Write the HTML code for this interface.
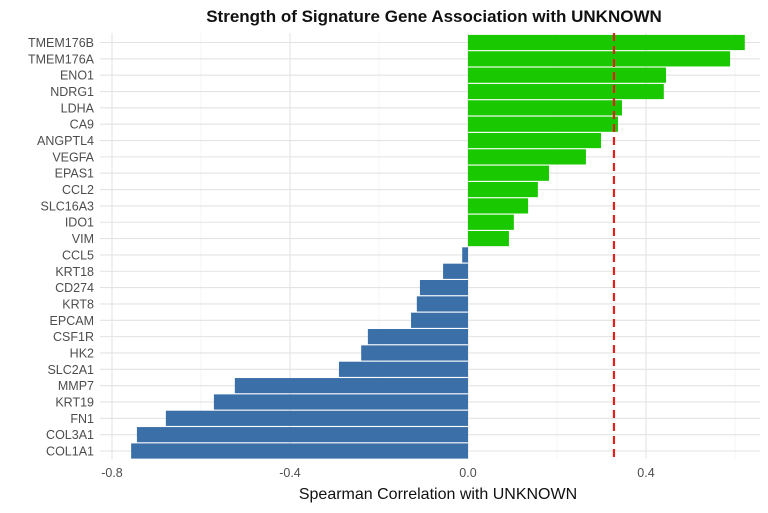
<!DOCTYPE html>
<html><head><meta charset="utf-8"><style>
body{margin:0;background:#fff;}
svg{display:block;font-family:"Liberation Sans",sans-serif;}
</style></head><body>
<svg id="c" width="768" height="513">
<text x="434" y="22" text-anchor="middle" font-size="17" font-weight="bold" fill="#111">Strength of Signature Gene Association with UNKNOWN</text>
<g id="grid"></g><g id="bars"></g><g id="labels"></g>
<text x="438" y="499" text-anchor="middle" font-size="16" fill="#111">Spearman Correlation with UNKNOWN</text>
</svg>
<script>
const genes=["TMEM176B","TMEM176A","ENO1","NDRG1","LDHA","CA9","ANGPTL4","VEGFA","EPAS1","CCL2","SLC16A3","IDO1","VIM","CCL5","KRT18","CD274","KRT8","EPCAM","CSF1R","HK2","SLC2A1","MMP7","KRT19","FN1","COL3A1","COL1A1"];
const values=[0.622,0.589,0.445,0.44,0.346,0.337,0.299,0.265,0.182,0.157,0.135,0.103,0.092,-0.013,-0.056,-0.108,-0.115,-0.128,-0.225,-0.240,-0.29,-0.524,-0.571,-0.679,-0.744,-0.757];
const xTicks=[-0.8,-0.4,0.0,0.4];
const xMinor=[-0.6,-0.2,0.2,0.6];
const threshold=0.328;
const NS="http://www.w3.org/2000/svg";
const xs=v=>468+v*445;
const Y0=42.5, STEP=(451-42.5)/(genes.length-1);
const ys=i=>Y0+i*STEP;
const PL=100,PR=760,PT=33,PB=459;
function mk(t,a,p){const e=document.createElementNS(NS,t);for(const k in a)e.setAttribute(k,a[k]);p.appendChild(e);return e;}
const gG=document.getElementById('grid'),gB=document.getElementById('bars'),gL=document.getElementById('labels');
xMinor.forEach(v=>{const e=mk('line',{x1:xs(v),x2:xs(v),y1:PT,y2:PB,stroke:'#f0f0f0','stroke-width':0.6},gG);

});
xTicks.forEach(v=>{const e=mk('line',{x1:xs(v),x2:xs(v),y1:PT,y2:PB,stroke:'#e3e3e3','stroke-width':1.1},gG);


const t=mk('text',{x:xs(v),y:477,'text-anchor':'middle','font-size':12.5,fill:'#4d4d4d'},gL);t.textContent=v.toFixed(1);

});
genes.forEach((n,i)=>{
const gl=mk('line',{x1:PL,x2:PR,y1:ys(i),y2:ys(i),stroke:'#e3e3e3','stroke-width':1.1},gG);


const v=values[i];
const r=mk('rect',{x:Math.min(xs(0),xs(v)),y:ys(i)-7.6,width:Math.abs(xs(v)-xs(0)),height:15.2,fill:v>=0?'#1ac800':'#3a6fa8'},gB);


const t=mk('text',{x:94,y:ys(i)+4.5,'text-anchor':'end','font-size':12.5,fill:'#4d4d4d'},gL);t.textContent=n;


});
const d=mk('line',{x1:xs(threshold),x2:xs(threshold),y1:PT,y2:PB,stroke:'#e0201b','stroke-width':2.2,'stroke-dasharray':'8,5'},gB);


</script>
</body></html>
